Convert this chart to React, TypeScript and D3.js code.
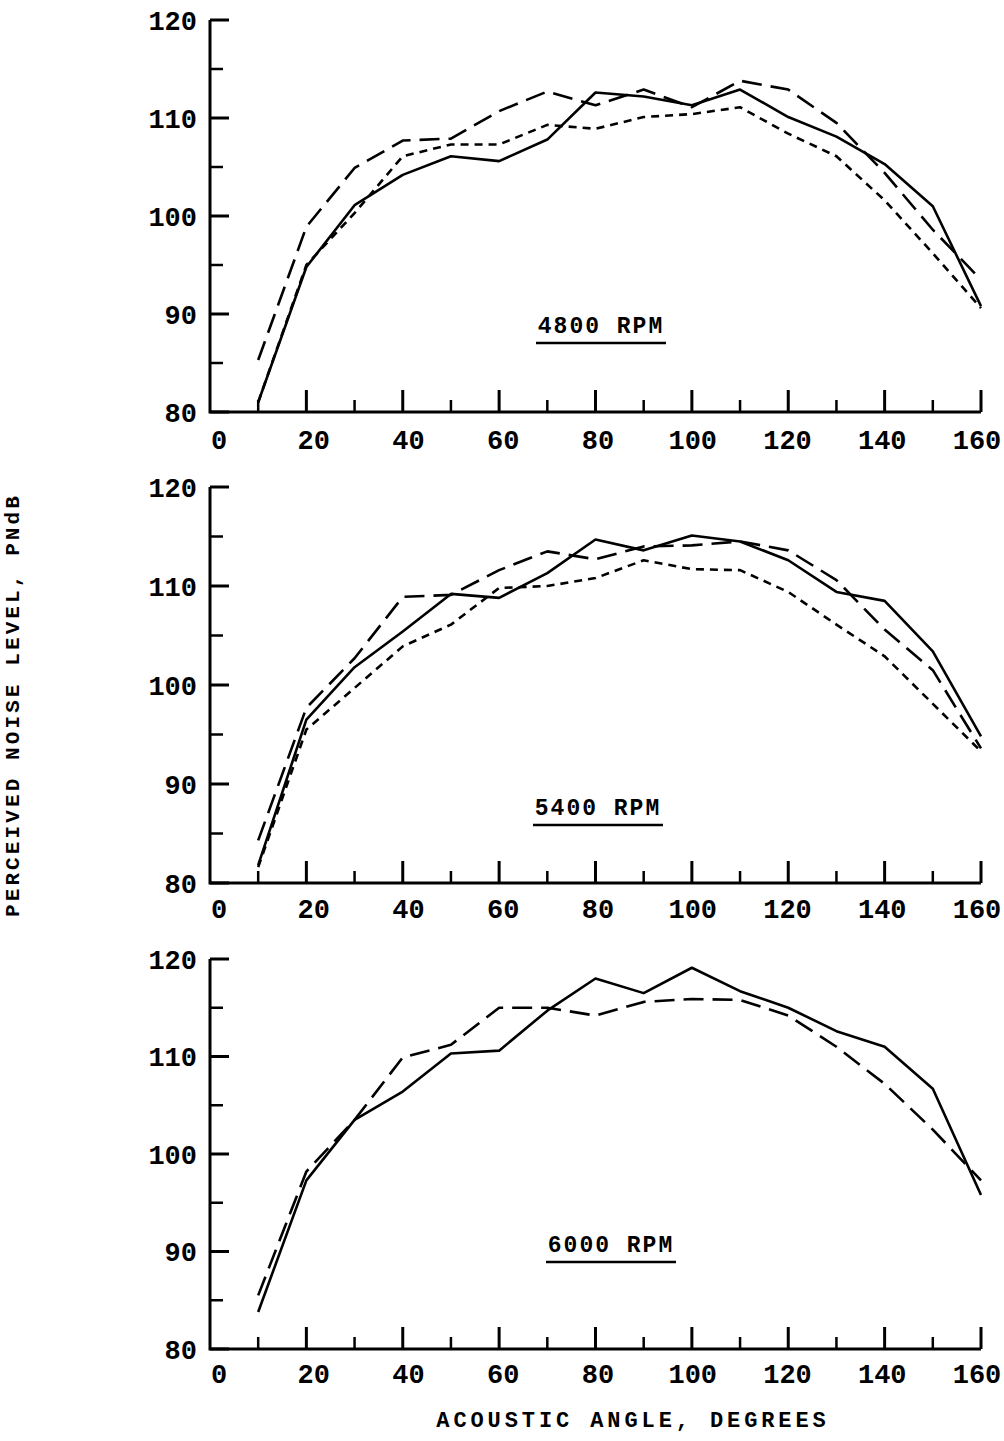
import * as d3 from "d3";

// acoustic angles, degrees
const angles = [10, 20, 30, 40, 50, 60, 70, 80, 90, 100, 110, 120, 130, 140, 150, 160];

// 4800 RPM
const solid4800 = [81, 94.8, 101.1, 104.2, 106.1, 105.6, 107.8, 112.6, 112.2, 111.3, 112.9, 110.1, 108.1, 105.3, 101, 90.8];
const longDash4800 = [85.3, 98.9, 104.9, 107.7, 107.9, 110.7, 112.7, 111.3, 112.9, 111.1, 113.8, 112.9, 109.5, 104.4, 98.6, 93.5];
const shortDash4800 = [81, 95, 100.3, 106.1, 107.3, 107.3, 109.3, 108.9, 110.1, 110.4, 111.1, 108.4, 106.1, 101.6, 96.2, 90.6];

// 5400 RPM
const solid5400 = [81.8, 96.5, 101.8, 105.4, 109.2, 108.8, 111.3, 114.7, 113.6, 115.1, 114.5, 112.6, 109.4, 108.5, 103.4, 94.8];
const longDash5400 = [84.3, 97.7, 102.7, 108.9, 109.1, 111.6, 113.5, 112.7, 114, 114.1, 114.5, 113.6, 110.6, 105.6, 101.5, 93.6];
const shortDash5400 = [81.6, 95.5, 99.7, 103.9, 106.1, 109.8, 110, 110.8, 112.6, 111.7, 111.6, 109.4, 106.1, 102.9, 98.1, 93.3];

// 6000 RPM
const solid6000 = [83.8, 97.3, 103.5, 106.4, 110.3, 110.6, 114.7, 118, 116.5, 119.1, 116.7, 115, 112.6, 111, 106.7, 95.8];
const longDash6000 = [85.5, 98.2, 103.5, 109.9, 111.2, 115, 115, 114.2, 115.6, 115.9, 115.8, 114.2, 111, 107.2, 102.5, 97.3];

const panelLabels = ["4800 RPM", "5400 RPM", "6000 RPM"];
const yTicks = [80, 90, 100, 110, 120];
const yMinorTicks = [85, 95, 105, 115];
const xTicks = [0, 20, 40, 60, 80, 100, 120, 140, 160];
const xMinorTicks = [10, 30, 50, 70, 90, 110, 130, 150];

const panels = [
  { label: panelLabels[0], series: [solid4800, longDash4800, shortDash4800], top: 20, bottom: 412, tickY: 449, labelX: 601, labelY: 333 },
  { label: panelLabels[1], series: [solid5400, longDash5400, shortDash5400], top: 487, bottom: 883, tickY: 918, labelX: 598, labelY: 815 },
  { label: panelLabels[2], series: [solid6000, longDash6000], top: 959, bottom: 1349, tickY: 1383, labelX: 611, labelY: 1252 },
];

const dashes = ["none", "20 9", "8 6"];
const font = "'Liberation Mono', 'Courier New', monospace";

function Panel({ p }: { p: typeof panels[number] }) {
  const x = d3.scaleLinear().domain([0, 160]).range([210, 981]);
  // tick labels sit on a slightly narrower run than the ticks themselves
  const xl = d3.scaleLinear().domain([0, 160]).range([219, 977]);
  const y = d3.scaleLinear().domain([80, 120]).range([p.bottom, p.top]);
  const line = d3
    .line<number>()
    .x((_, i) => x(angles[i]))
    .y((d) => y(d));

  return (
    <g>
      {p.series.map((s, i) => (
        <path
          key={i}
          d={line(s) ?? ""}
          fill="none"
          stroke="#000"
          strokeWidth={2.6}
          strokeDasharray={dashes[i]}
          strokeLinejoin="round"
        />
      ))}
      {/* axes */}
      <path
        d={`M${x(0)},${y(120)}V${y(80)}H${x(160)}`}
        fill="none"
        stroke="#000"
        strokeWidth={3}
      />
      {yTicks.map((t) => (
        <g key={t}>
          <line x1={x(0)} x2={x(0) + 19} y1={y(t)} y2={y(t)} stroke="#000" strokeWidth={3} />
          <text
            x={x(0) - 13}
            y={y(t)}
            dy="0.36em"
            textAnchor="end"
            fontFamily={font}
            fontWeight="bold"
            fontSize={27}
          >
            {t}
          </text>
        </g>
      ))}
      {yMinorTicks.map((t) => (
        <line key={t} x1={x(0)} x2={x(0) + 13} y1={y(t)} y2={y(t)} stroke="#000" strokeWidth={2.5} />
      ))}
      {xTicks.map((t) => (
        <g key={t}>
          {t > 0 && (
            <line x1={x(t)} x2={x(t)} y1={y(80)} y2={y(80) - 22} stroke="#000" strokeWidth={3} />
          )}
          <text
            x={xl(t)}
            y={p.tickY}
            textAnchor="middle"
            fontFamily={font}
            fontWeight="bold"
            fontSize={27}
          >
            {t}
          </text>
        </g>
      ))}
      {xMinorTicks.map((t) => (
        <line key={t} x1={x(t)} x2={x(t)} y1={y(80)} y2={y(80) - 12} stroke="#000" strokeWidth={2.5} />
      ))}
      {/* rpm label */}
      <text
        x={p.labelX}
        y={p.labelY}
        textAnchor="middle"
        fontFamily={font}
        fontWeight="bold"
        fontSize={23}
        letterSpacing={2}
      >
        {p.label}
      </text>
      <line
        x1={p.labelX - 65}
        x2={p.labelX + 65}
        y1={p.labelY + 10}
        y2={p.labelY + 10}
        stroke="#000"
        strokeWidth={2.5}
      />
    </g>
  );
}

export default function App() {
  return (
    <svg
      width={1004}
      height={1441}
      viewBox="0 0 1004 1441"
      style={{ position: "absolute", left: 0, top: 0, background: "#fff" }}
    >
      {panels.map((p) => (
        <Panel key={p.label} p={p} />
      ))}
      <text
        transform="translate(19,705) rotate(-90)"
        textAnchor="middle"
        fontFamily={font}
        fontWeight="bold"
        fontSize={21}
        letterSpacing={3.1}
      >
        PERCEIVED NOISE LEVEL, PNdB
      </text>
      <text
        x={633}
        y={1427}
        textAnchor="middle"
        fontFamily={font}
        fontWeight="bold"
        fontSize={22}
        letterSpacing={3.9}
      >
        ACOUSTIC ANGLE, DEGREES
      </text>
    </svg>
  );
}
